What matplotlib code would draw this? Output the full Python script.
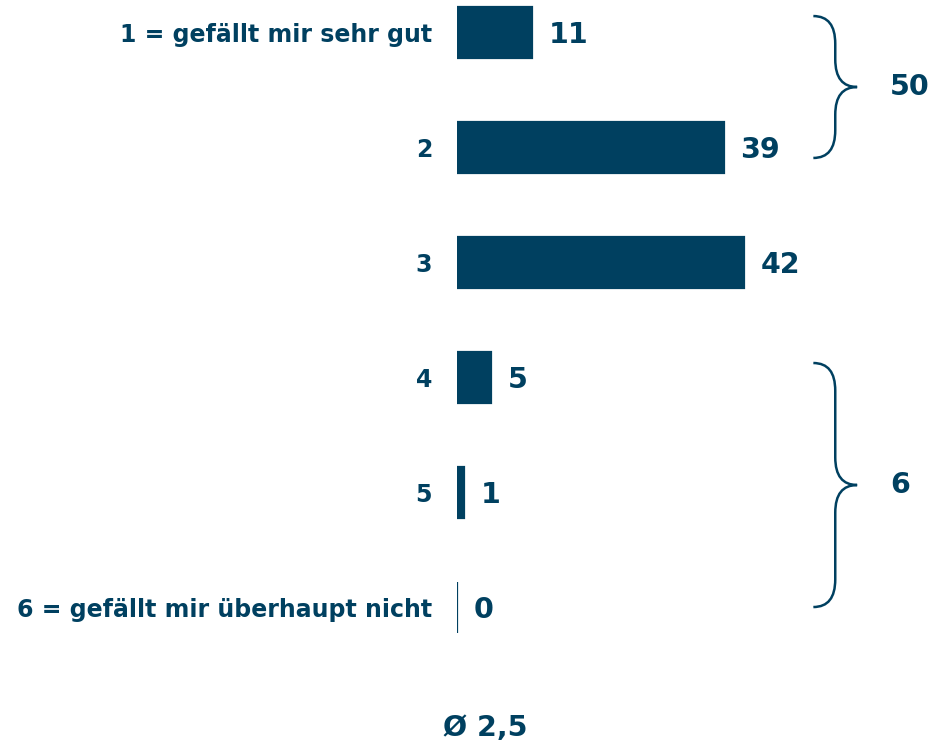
import matplotlib
matplotlib.use("Agg")
import matplotlib.pyplot as plt
from matplotlib.path import Path
from matplotlib.patches import PathPatch

categories = ["1 = gefällt mir sehr gut", "2", "3", "4", "5", "6 = gefällt mir überhaupt nicht"]
values = [11, 39, 42, 5, 1, 0]
group_labels = ["50", "6"]
group_rows = [(0, 1), (3, 5)]
mean_label = "Ø 2,5"

COLOR = "#004060"
plt.rcParams['font.family'] = ['DejaVu Sans']

W, H = 935, 747
fig = plt.figure(figsize=(W / 100, H / 100), dpi=100)
x0_px = 457
px_per_unit = 6.84
ax = fig.add_axes([x0_px / W, 0, 1 - x0_px / W, 1])
ax.set_xlim(0, (W - x0_px) / px_per_unit)
ax.set_ylim((H - 32.5) / 115, -32.5 / 115)

ypos = list(range(len(categories)))
ax.barh(ypos, values, height=0.44, color=COLOR, edgecolor=COLOR, linewidth=1.6)
for y, v in zip(ypos, values):
    ax.text(v + 2.4, y + 0.02, str(v), va='center', ha='left', fontsize=20.5,
            fontweight='bold', color=COLOR)

ax.set_yticks(ypos)
ax.set_yticklabels(categories, fontsize=17, fontweight='bold', color=COLOR)
ax.tick_params(axis='y', length=0, pad=18)
ax.set_xticks([])
for s in ax.spines.values():
    s.set_visible(False)
ax.patch.set_visible(False)

# braces
def brace(ax, xl, w, ytop, ybot, r):
    xm = xl + w / 2
    xt = xl + w
    ym = (ytop + ybot) / 2
    verts = [(xl, ytop), (xm, ytop), (xm, ytop + r), (xm, ym - r), (xm, ym), (xt, ym),
             (xm, ym), (xm, ym + r), (xm, ybot - r), (xm, ybot), (xl, ybot)]
    codes = [Path.MOVETO, Path.CURVE3, Path.CURVE3, Path.LINETO, Path.CURVE3, Path.CURVE3,
             Path.CURVE3, Path.CURVE3, Path.LINETO, Path.CURVE3, Path.CURVE3]
    ax.add_patch(PathPatch(Path(verts, codes), fill=False, edgecolor=COLOR, lw=1.8,
                           clip_on=False))

pads = [(0.143, 0.091), (0.126, -0.004)]
for (a, b), (pt, pb), lab in zip(group_rows, pads, group_labels):
    ytop = a - pt
    ybot = b + pb
    brace(ax, 52.1, 6.4, ytop, ybot, 0.24)
    ax.text(63.3, (ytop + ybot) / 2, lab, va='center', ha='left', fontsize=20.5,
            fontweight='bold', color=COLOR)

fig.text(485 / W, 1 - 728 / H, mean_label, ha='center', va='center', fontsize=20.5,
         fontweight='bold', color=COLOR)

fig.savefig("out.png", dpi=100)
